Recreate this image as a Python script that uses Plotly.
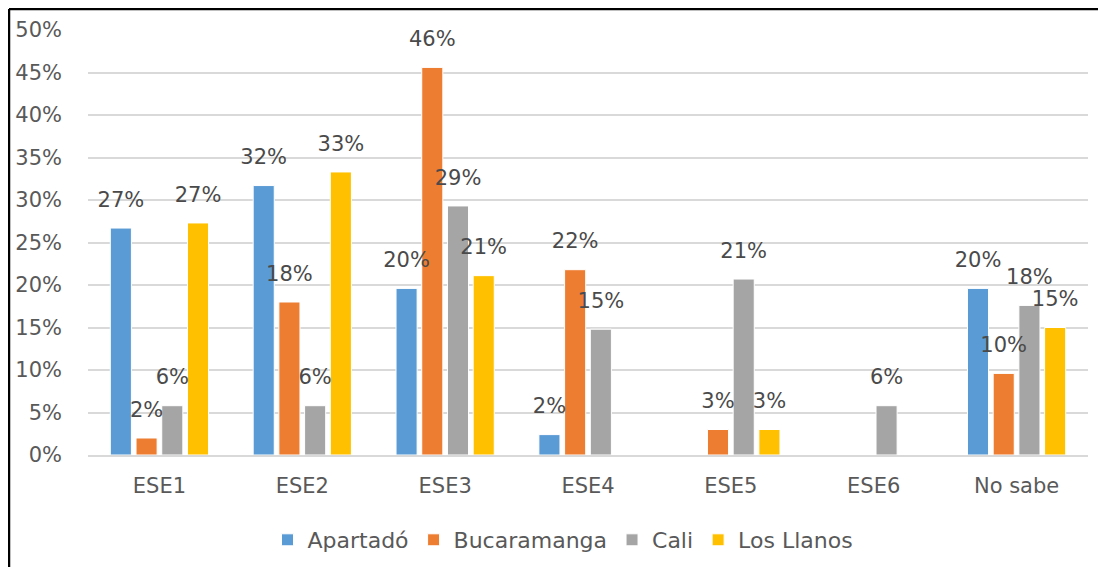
import plotly.graph_objects as go

categories = ["ESE1", "ESE2", "ESE3", "ESE4", "ESE5", "ESE6", "No sabe"]
series_names = ["Apartadó", "Bucaramanga", "Cali", "Los Llanos"]
apartado = [0.267, 0.317, 0.196, 0.024, 0.0, 0.0, 0.196]
bucaramanga = [0.020, 0.180, 0.456, 0.218, 0.030, 0.0, 0.096]
cali = [0.058, 0.058, 0.293, 0.148, 0.207, 0.058, 0.176]
los_llanos = [0.273, 0.333, 0.211, 0.0, 0.030, 0.0, 0.150]
y_ticks = [0, 0.05, 0.10, 0.15, 0.20, 0.25, 0.30, 0.35, 0.40, 0.45, 0.50]

colors = ["#5B9BD5", "#ED7D31", "#A5A5A5", "#FFC000"]
values = [apartado, bucaramanga, cali, los_llanos]
font_family = "DejaVu Sans"
txt_color = "#595959"
fsize = 21

fig = go.Figure()
for i, (name, vals, col) in enumerate(zip(series_names, values, colors)):
    fig.add_trace(go.Bar(
        x=categories, y=vals, name=name,
        marker=dict(color=col, line=dict(color="white", width=1)),
        offsetgroup=str(i), hoverinfo="skip",
    ))
for i, (name, vals) in enumerate(zip(series_names, values)):
    fig.add_trace(go.Scatter(
        x=categories, y=vals, mode="markers+text",
        text=[f"{v:.0%}" if v > 0 else "" for v in vals],
        textposition="top center",
        textfont=dict(family=font_family, size=fsize, color="#4a4a4a"),
        marker=dict(size=24, color="rgba(0,0,0,0)"),
        offsetgroup=str(i), showlegend=False, hoverinfo="skip", cliponaxis=False,
    ))

fig.update_layout(
    width=1106, height=567,
    margin=dict(l=80, r=26, t=22, b=120, autoexpand=False),
    paper_bgcolor="white", plot_bgcolor="white",
    barmode="group", bargap=0.28, bargroupgap=0.18,
    scattermode="group", scattergap=0.28,
    font=dict(family=font_family, size=fsize, color=txt_color),
    legend=dict(orientation="h", x=0.475, xanchor="center", y=-0.2, yanchor="middle",
                font=dict(family=font_family, size=22, color=txt_color),
                itemwidth=30, tracegroupgap=0),
    showlegend=True,
)
fig.update_xaxes(showgrid=False, showline=True, linecolor="#d9d9d9", linewidth=1.5,
                 ticks="", ticklabelstandoff=11, automargin=False,
                 tickfont=dict(family=font_family, size=fsize, color=txt_color))
fig.update_yaxes(range=[0, 0.5], tickvals=y_ticks, tickformat=".0%",
                 showgrid=True, gridcolor="#d9d9d9", gridwidth=1.5, automargin=False,
                 zeroline=False, showline=False, ticks="", ticklabelstandoff=25,
                 tickfont=dict(family=font_family, size=fsize, color=txt_color))

# outer chart border (top and left edges visible in the reference)
fig.add_shape(type="line", xref="paper", yref="paper", x0=-0.079, x1=1.1, y0=1.0494, y1=1.0494,
              line=dict(color="black", width=2.5))
fig.add_shape(type="line", xref="paper", yref="paper", x0=-0.079, x1=-0.079, y0=1.0494, y1=-0.35,
              line=dict(color="black", width=2.5))

fig.write_html("out.html")
